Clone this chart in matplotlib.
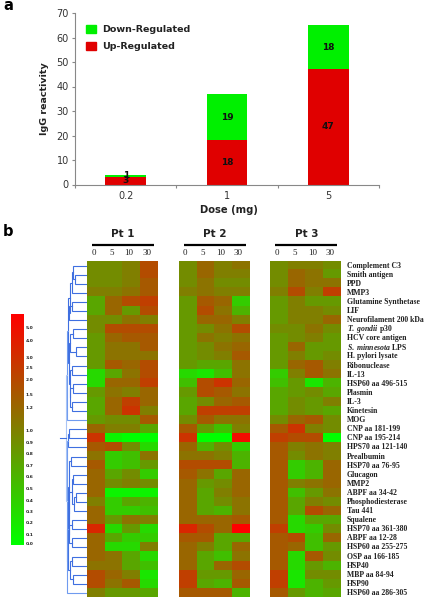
# IgG reactivity bars and antigen heatmap (panels a, b)

import numpy as np
import matplotlib
matplotlib.use("Agg")
import matplotlib.pyplot as plt
from matplotlib.colors import LinearSegmentedColormap, Normalize
from matplotlib.cm import ScalarMappable
from matplotlib.patches import Patch

W, H = 425, 600

doses = ["0.2", "1", "5"]
up_regulated = [3, 18, 47]
down_regulated = [1, 19, 18]

days = ["0", "5", "10", "30"]
antigens = [
    "Complement C3", "Smith antigen", "PPD", "MMP3", "Glutamine Synthetase", "LIF",
    "Neurofilament 200 kDa", r"$\mathit{T.\ gondii}$ p30", "HCV core antigen",
    r"$\mathit{S.\ minnesota}$ LPS", "H. pylori lysate", "Ribonuclease", "IL-13",
    "HSP60 aa 496-515", "Plasmin", "IL-3", "Kinetesin", "MOG", "CNP aa 181-199",
    "CNP aa 195-214", "HPS70 aa 121-140", "Prealbumin", "HSP70 aa 76-95", "Glucagon",
    "MMP2", "ABPF aa 34-42", "Phosphodiesterase", "Tau 441", "Squalene",
    "HSP70 aa 361-380", "ABPF aa 12-28", "HSP60 aa 255-275", "OSP aa 166-185", "HSP40",
    "MBP aa 84-94", "HSP90", "HSP60 aa 286-305",
]

# colour level: 0 green, 5 olive, 10 red
pt1 = [
    [4.5, 4.5, 5, 7], [4.5, 4.5, 5, 7], [4.5, 4.5, 5, 6.5], [5, 5, 5.5, 6.5],
    [3.5, 6, 7, 7.5], [3.5, 6, 4, 7], [4.5, 4.5, 5.5, 5], [4.5, 7, 7, 7],
    [4, 6, 6.5, 6.5], [4, 5.5, 5.5, 6.5], [4, 5.5, 5.5, 5.5], [4, 6.5, 6, 7],
    [1.5, 3.5, 5.5, 7], [1.5, 6, 6, 7.5], [4, 5.5, 5, 6], [3.5, 6, 7.5, 6],
    [3.5, 6, 8, 5], [4, 4.5, 4.5, 6.5], [6, 5, 5, 3.5], [8, 0.5, 0, 0],
    [6.5, 7, 4.5, 1.5], [5.5, 2, 2.5, 5.5], [6.5, 2, 2.5, 4], [6, 3.5, 4.5, 2],
    [6, 4.5, 5, 4.5], [6, 0.5, 0.5, 0.5], [5, 2, 3.5, 3], [6, 2, 2, 2.5],
    [6, 4, 5.5, 5], [8.5, 1.5, 4, 1.5], [6, 3.5, 2, 2], [6, 1.5, 1.5, 5],
    [6, 5.5, 3.5, 1.5], [5.5, 5.5, 3.5, 2.5], [7, 6, 5, 1], [7, 5.5, 6.5, 1.5],
    [5, 4, 4, 3.5],
]
pt2 = [
    [4.5, 6, 5, 5.5], [4.5, 6, 5, 5], [4.5, 5.5, 4.5, 4.5], [5, 5.5, 5, 5],
    [4, 6.5, 6, 2], [4, 7, 5.5, 3], [4, 6, 6, 5], [4, 4.5, 5.5, 7],
    [4, 5.5, 5, 5.5], [4, 4.5, 5.5, 6], [4, 4.5, 5, 6.5], [4, 3.5, 3.5, 5.5],
    [1.5, 1, 2.5, 5.5], [2.5, 7, 8, 6], [4, 7, 6.5, 5.5], [3.5, 4.5, 6, 6.5],
    [3.5, 7.5, 7.5, 7.5], [4.5, 6.5, 5.5, 5.5], [6.5, 4, 2.5, 5], [8, 0, 0, 9.5],
    [6, 3, 4.5, 2], [5.5, 5.5, 5, 3], [7, 7, 7, 3], [6.5, 5.5, 3.5, 6],
    [6, 4, 4.5, 6], [6, 3.5, 5, 6], [6, 3.5, 4.5, 5.5], [6, 3.5, 3, 5.5],
    [6, 6, 6, 6.5], [8.5, 7, 6, 10], [6.5, 6.5, 3.5, 3.5], [6, 5, 3.5, 6],
    [6, 3.5, 2.5, 5.5], [6, 3.5, 6, 7], [7.5, 4, 4, 6], [7.5, 3.5, 3, 6.5],
    [6.5, 6.5, 6.5, 3],
]
pt3 = [
    [4.5, 5, 5, 4.5], [4.5, 6, 5.5, 4], [4.5, 6, 5.5, 5.5], [5, 7, 5, 7.5],
    [4, 5, 4, 4], [4, 5, 5, 4.5], [4, 5, 5, 6], [4.5, 4.5, 5.5, 4.5],
    [4, 4.5, 5, 4], [4, 6, 4, 4], [4, 5, 4, 4.5], [4, 6, 6.5, 5],
    [2, 5, 6.5, 5.5], [2.5, 4, 1, 3], [3.5, 4, 4.5, 3.5], [3.5, 4.5, 4, 5],
    [3.5, 4.5, 4, 3.5], [4.5, 6, 6.5, 4.5], [6.5, 8, 5, 4.5], [7.5, 7, 7, 0],
    [6.5, 5, 5.5, 5], [6.5, 4.5, 5.5, 5], [6.5, 2, 3, 6], [6.5, 2, 3, 6],
    [6.5, 5, 5.5, 6], [6.5, 2.5, 4, 5.5], [6.5, 3.5, 5, 4.5], [6.5, 3.5, 7, 6],
    [6.5, 1.5, 3.5, 3.5], [7.5, 1.5, 2, 4.5], [6.5, 7, 2.5, 6], [6.5, 6, 2.5, 4],
    [6.5, 1.5, 6.5, 4.5], [6.5, 1.5, 4, 3], [7.5, 1, 4.5, 4.5], [7.5, 1, 3, 4],
    [6.5, 4, 3, 3.5],
]

scale_labels = ["5.0", "4.0", "3.0", "2.5", "2.0", "1.5", "1.2", "1.0", "0.9",
                "0.8", "0.7", "0.6", "0.5", "0.4", "0.3", "0.2", "0.1", "0.0"]
scale_levels = [9.43, 8.83, 8.13, 7.7, 7.17, 6.52, 5.96, 4.96, 4.43,
                3.96, 3.43, 2.96, 2.43, 1.91, 1.43, 0.96, 0.43, 0.04]

# dendrogram as (merge distance, child, child), ints are rows
top_tree = (20.3,
            (19.0,
             (17.5, (15.5, (14.3, 0, (12.3, 1, 2)), 3), (18.0, (15.3, 4, 5), 6)),
             (18.5, (17.0, (13.7, 7, 8), (11.0, 9, 10)),
              (17.5, (15.3, 11, 12), (17.0, (14.3, 13, 14), (15.0, 15, 16))))),
            17)
bottom_tree = (20.0,
               (18.7, (18.0, 18, 19), 20),
               (19.7,
                (19.0,
                 (18.5, (16.3, 21, 22),
                  (18.0, (15.5, (14.3, 23, 24), (13.0, (11.0, 25, 26), 27)),
                   (18.2, (15.3, 28, 29), (15.3, 30, 31)))),
                 (17.5, (15.3, 32, 33), (13.7, 34, 35))),
                36))
tree_root = (21.5, top_tree, bottom_tree)


def px_axes(x0, y0, x1, y1):
    return fig.add_axes([x0 / W, 1 - y1 / H, (x1 - x0) / W, (y1 - y0) / H])


def draw_tree(ax, node):
    if not isinstance(node, tuple):
        return 0.0, node
    h, a, b = node
    ha, ya = draw_tree(ax, a)
    hb, yb = draw_tree(ax, b)
    col = "#a9c4f5" if h >= 21 else ("#6f9bef" if h >= 19.5 else "#3f6fe0")
    ax.plot([ha, h, h, hb], [ya, ya, yb, yb], color=col, lw=0.8, solid_joinstyle="miter")
    return h, (ya + yb) / 2


plt.rcParams["font.family"] = "DejaVu Sans"
plt.rcParams["mathtext.fontset"] = "custom"
plt.rcParams["mathtext.rm"] = "Liberation Serif:bold"
plt.rcParams["mathtext.it"] = "Liberation Serif:italic:bold"

fig = plt.figure(figsize=(W / 100, H / 100), dpi=100)

# panel a
ax = px_axes(75, 13, 379, 184.5)
x = np.arange(len(doses))
ax.bar(x, up_regulated, 0.4, color="#e00000", label="Up-Regulated")
ax.bar(x, down_regulated, 0.4, bottom=up_regulated, color="#00f000", label="Down-Regulated")
for i in x:
    ax.text(i, up_regulated[i] / 2, str(up_regulated[i]), ha="center", va="center",
            fontsize=6.5, fontweight="bold", color="#101010")
    ax.text(i, up_regulated[i] + down_regulated[i] / 2, str(down_regulated[i]), ha="center",
            va="center", fontsize=6.5, fontweight="bold", color="#101010")
ax.set_xlim(-0.5, 2.5)
ax.set_ylim(0, 70)
ax.set_xticks([-0.5, 0.5, 1.5, 2.5])
ax.set_xticklabels([])
ax.set_xticks(x, doses, minor=True)
ax.tick_params(axis="x", which="minor", length=0, labelsize=7, pad=5, labelcolor="#333333")
ax.tick_params(axis="x", which="major", length=2.5, color="#888888")
ax.tick_params(axis="y", length=2.5, color="#888888", labelsize=7, pad=2, labelcolor="#333333")
ax.set_yticks(range(0, 71, 10))
for side in ["top", "right"]:
    ax.spines[side].set_visible(False)
for side in ["left", "bottom"]:
    ax.spines[side].set_color("#888888")
    ax.spines[side].set_linewidth(0.8)
ax.set_xlabel("Dose (mg)", fontsize=7.2, fontweight="bold", color="#222222")
ax.xaxis.set_label_coords(0.505, -0.122)
ax.set_ylabel("IgG reactivity", fontsize=6.8, fontweight="bold", color="#222222")
ax.yaxis.set_label_coords(-0.085, 0.5)
ax.legend(handles=[Patch(color="#00f000", label="Down-Regulated"),
                   Patch(color="#e00000", label="Up-Regulated")],
          loc="upper left", bbox_to_anchor=(0.036, 0.93), frameon=False,
          prop={"size": 6.8, "weight": "bold"}, handlelength=1.05, handleheight=1.0,
          handletextpad=0.65, labelspacing=0.75, borderpad=0, borderaxespad=0,
          labelcolor="#222222")

fig.text(3 / W, 1 - 6 / H, "a", fontsize=10.5, fontweight="bold", va="center")
fig.text(3 / W, 1 - 231 / H, "b", fontsize=10.5, fontweight="bold", va="center")

# panel b heatmaps
cmap = LinearSegmentedColormap.from_list("gr", ["#00ff00", "#808000", "#ff0000"])
norm = Normalize(0, 10)
panels = [("Pt 1", pt1, 87, 157.5), ("Pt 2", pt2, 178.5, 249.5), ("Pt 3", pt3, 270, 341)]
top, bottom = 261, 597.5
for name, vals, x0, x1 in panels:
    hm = px_axes(x0, top, x1, bottom)
    hm.imshow(np.array(vals), cmap=cmap, norm=norm, aspect="auto", interpolation="nearest")
    hm.axis("off")
    for j, d in enumerate(days):
        hm.text(j - 0.12, -1.33, d, ha="center", va="center", fontsize=6.5,
                family="Liberation Serif", color="#222222")
    hm.plot([-0.2, 3.3], [-2.3, -2.3], color="black", lw=1.6, clip_on=False,
            solid_capstyle="butt", scaley=False, scalex=False)
    hm.text(1.55, -3.47, name, ha="center", va="center", fontsize=7.5, fontweight="bold",
            color="#222222")
    last = hm

for j, label in enumerate(antigens):
    last.text(3.5 + 6 / 17.75, j, label, ha="left", va="center", fontsize=5.6,
              family="Liberation Serif", fontweight="bold", color="#222222")

# dendrogram, one x unit is one pixel away from the heatmap
den = px_axes(58, top, 87, bottom)
den.set_xlim(29, 0)
den.set_ylim(36.5, -0.5)
den.axis("off")
rh, ry = draw_tree(den, tree_root)
den.plot([rh, 27], [ry, ry], color="#3f6fe0", lw=0.8)

# colour scale
cax = px_axes(10.7, 314, 24.3, 544.5)
cb = fig.colorbar(ScalarMappable(norm=norm, cmap=cmap), cax=cax)
cb.outline.set_visible(False)
cb.set_ticks(scale_levels, labels=scale_labels)
cb.ax.tick_params(length=0, labelsize=3.2, pad=1, labelcolor="#222222")
for t in cb.ax.get_yticklabels():
    t.set_fontweight("bold")

fig.savefig("out.png", dpi=100)
